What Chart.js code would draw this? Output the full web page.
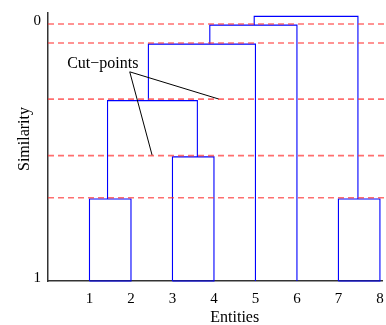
<!doctype html>
<html lang="en">
<head>
<meta charset="utf-8">
<title>Dendrogram</title>
<style>
  html, body { margin: 0; padding: 0; background: #fff; }
  .container { width: 386px; height: 325px; }
</style>
</head>
<body>
<div class="container"><canvas id="myChart" width="386" height="325"></canvas></div>
<script src="https://cdn.jsdelivr.net/npm/chart.js"></script>
<script>
const entities = [1, 2, 3, 4, 5, 6, 7, 8];
const yTickValues = [0, 1];
const cutHeights = [0, 0.074, 0.292, 0.512, 0.676];

// each merge: left leg x, right leg x, merge height, bottom of left leg, bottom of right leg
const mergeLeftX = [1, 3, 1.435, 2.42, 3.90, 7, 4.97];
const mergeRightX = [2, 4, 3.60, 5, 6, 8, 7.47];
const mergeHeight = [0.681, 0.517, 0.298, 0.078, 0.004, 0.681, -0.030];
const mergeLeftBase = [1, 1, 0.681, 0.298, 0.078, 1, 0.004];
const mergeRightBase = [1, 1, 0.517, 1, 1, 1, 0.681];

const cutLabel = 'Cut\u2212points';
const cutLabelPos = { x: 1.32, y: 0.156 };
const cutPointerFrom = { x: 1.97, y: 0.186 };
const cutPointerTo = [{ x: 4.12, y: 0.292 }, { x: 2.51, y: 0.511 }];

const serif = '"Liberation Serif", "DejaVu Serif", serif';

const datasets = [];

// red dashed cut lines (drawn on top, so they come first)
cutHeights.forEach(h => {
  datasets.push({
    data: [{ x: 0, y: h }, { x: 8.25, y: h }],
    borderColor: 'rgba(255,50,50,0.7)',
    borderWidth: 1.6,
    borderDash: [6, 4],
    pointRadius: 0,
    clip: false
  });
});

// pointer lines for the label
cutPointerTo.forEach(p => {
  datasets.push({
    data: [cutPointerFrom, p],
    borderColor: '#000',
    borderWidth: 1,
    pointRadius: 0,
    clip: false
  });
});

// dendrogram
mergeHeight.forEach((h, i) => {
  const l = mergeLeftX[i], r = mergeRightX[i];
  const pts = [
    { x: l, y: mergeLeftBase[i] },
    { x: l, y: h },
    { x: r, y: h },
    { x: r, y: mergeRightBase[i] }
  ];
  // two leaves joined: close the box along the axis
  if (mergeLeftBase[i] === 1 && mergeRightBase[i] === 1) pts.push({ x: l, y: 1 });
  datasets.push({
    data: pts,
    borderColor: '#0000ff',
    borderWidth: 1.1,
    pointRadius: 0,
    tension: 0,
    clip: false
  });
});

const textPlugin = {
  id: 'texts',
  afterDraw(chart) {
    const ctx = chart.ctx;
    const xs = chart.scales.x, ys = chart.scales.y;
    ctx.save();
    ctx.fillStyle = '#000';
    ctx.font = '16px ' + serif;
    ctx.textAlign = 'center';
    ctx.textBaseline = 'middle';
    ctx.fillText(cutLabel, xs.getPixelForValue(cutLabelPos.x), ys.getPixelForValue(cutLabelPos.y));
    ctx.fillText('Entities', xs.getPixelForValue(4.5), 318);
    ctx.translate(25, 139);
    ctx.rotate(-Math.PI / 2);
    ctx.fillText('Similarity', 0, 0);
    ctx.restore();
  }
};

const myChart = new Chart(document.getElementById('myChart'), {
  type: 'line',
  data: { datasets },
  options: {
    responsive: false,
    animation: false,
    events: [],
    layout: { padding: { top: 13, right: 4, left: 0, bottom: 0 } },
    plugins: { legend: { display: false }, tooltip: { enabled: false } },
    scales: {
      x: {
        type: 'linear',
        min: 0,
        max: 8.05,
        grid: { display: false, drawTicks: false },
        border: { display: true, color: '#333', width: 1.5 },
        ticks: { color: '#000', font: { family: serif, size: 15 }, padding: 9, maxRotation: 0 },
        afterBuildTicks: s => { s.ticks = entities.map(v => ({ value: v })); },
        afterFit: s => { s.height = 44; s.paddingLeft = 0; s.paddingRight = 0; }
      },
      y: {
        type: 'linear',
        reverse: true,
        min: -0.043,
        max: 1,
        grid: { display: false, drawTicks: false },
        border: { display: true, color: '#333', width: 1.5 },
        ticks: { color: '#000', font: { family: serif, size: 15 }, padding: 7, labelOffset: -3 },
        afterBuildTicks: s => { s.ticks = yTickValues.map(v => ({ value: v })); },
        afterFit: s => { s.width = 48; s.paddingTop = 0; s.paddingBottom = 0; }
      }
    }
  },
  plugins: [textPlugin]
});
</script>
</body>
</html>
